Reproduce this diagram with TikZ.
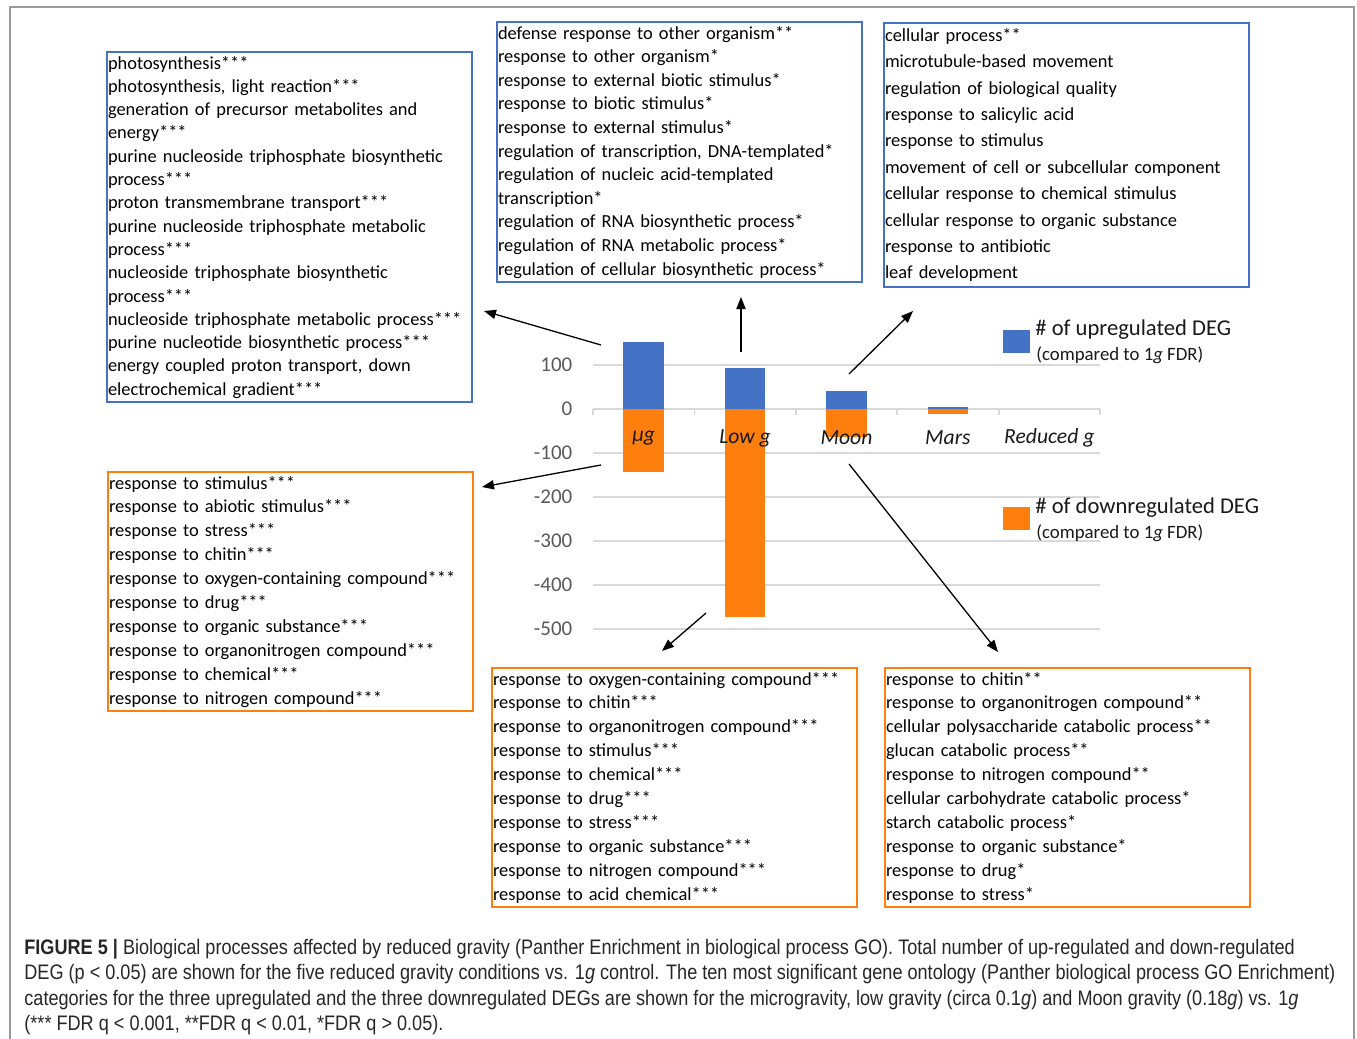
\documentclass[tikz,border=0pt]{standalone}
\usepackage{fontspec}
\setmainfont{Carlito}
\newfontfamily\capfont[FakeStretch=0.862]{Liberation Sans}
\usetikzlibrary{arrows.meta}

\definecolor{upblue}{HTML}{4472C4}
\definecolor{downorange}{HTML}{FF7F0E}
\definecolor{gridgray}{HTML}{D9D9D9}
\definecolor{axisgray}{HTML}{595959}
\definecolor{framegray}{HTML}{9A9A9A}

\tikzset{
  golist/.style={draw=#1, line width=1pt, anchor=north west, align=left,
    text width=181.5pt, inner xsep=0.5pt, inner ysep=2pt, font=\fontsize{9.2}{11.65}\selectfont,
    execute at begin node={\hyphenpenalty=10000}},
  golink/.style={-{Triangle[length=6pt,width=4.6pt]}, line width=0.65pt, black},
  axislbl/.style={anchor=east, text=axisgray, font=\fontsize{10.5}{12}\selectfont, inner sep=0pt},
  catlbl/.style={text=black!90, font=\fontsize{10.8}{12}\selectfont\itshape, inner sep=0pt},
  legendtxt/.style={anchor=west, inner sep=0pt, text=black!90}
}

\begin{document}
\begin{tikzpicture}[x=0.5pt, y=-0.5pt]
	\useasboundingbox (0,0) rectangle (1357,1039); % Seitenrand wie Vorlage
	\draw[framegray, line width=0.8pt] (10,1060) -- (10,7) -- (1354,7) -- (1354,1060);
	
	% Diagramm: Ursprung bei (593,409), 100 DEG = 44px
	\begin{scope}[shift={(593,409)}, x=50.7pt, y=0.22pt]
		\foreach \v in {100,-100,-200,-300,-400,-500}
			\draw[gridgray, line width=0.9pt] (0,\v) -- (5,\v);
		\draw[gridgray, line width=0.9pt] (0,0) -- (5,0);
		\foreach \i in {0,...,5}
			\draw[gridgray, line width=0.9pt] (\i,0) -- (\i,-14);
		
		\foreach \i/\up/\down in {0/152/-143, 1/93/-473, 2/41/-64, 3/5/-11}{
			\fill[upblue] (\i+0.3,0) rectangle (\i+0.7,\up); % hochreguliert
			\fill[downorange] (\i+0.3,0) rectangle (\i+0.7,\down); % runterreguliert
		}
		
		\foreach \v [count=\k] in {100,0,-100,-200,-300,-400,-500}
			\node[axislbl] (ylab\k) at (-0.2,\v) {\v};
		
		\node[catlbl] (cmug) at (0.5,-66) {µg};
		\node[catlbl] (clow) at (1.5,-66) {Low g};
		\node[catlbl] (cmoon) at (2.5,-66) {Moon};
		\node[catlbl] (cmars) at (3.5,-66) {Mars};
		\node[catlbl] (cred) at (4.5,-66) {Reduced g};
	\end{scope}
	
	% Legende
	\fill[upblue] (1003,330) rectangle (1030,353);
	\node[legendtxt, font=\fontsize{11.3}{13}\selectfont] (upleg) at (1035,330) {\# of upregulated DEG};
	\node[legendtxt, font=\fontsize{9.4}{11}\selectfont] (upcmp) at (1036,355) {(compared to 1\textit{g} FDR)};
	\fill[downorange] (1003,507) rectangle (1030,530);
	\node[legendtxt, font=\fontsize{11.3}{13}\selectfont] (dnleg) at (1035,508) {\# of downregulated DEG};
	\node[legendtxt, font=\fontsize{9.4}{11}\selectfont] (dncmp) at (1036,533) {(compared to 1\textit{g} FDR)};
	
	% GO-Listen hochreguliert
	\node[golist=upblue, minimum height=174.5pt] (upmug) at (106,51) {photosynthesis***\\
		photosynthesis, light reaction***\\
		generation of precursor metabolites and\\
		energy***\\
		purine nucleoside triphosphate biosynthetic\\
		process***\\
		proton transmembrane transport***\\
		purine nucleoside triphosphate metabolic\\
		process***\\
		nucleoside triphosphate biosynthetic\\
		process***\\
		nucleoside triphosphate metabolic process***\\
		purine nucleotide biosynthetic process***\\
		energy coupled proton transport, down\\
		electrochemical gradient***};
	\node[golist=upblue, minimum height=130pt, font=\fontsize{9.2}{11.8}\selectfont] (uplow) at (496,21) {defense response to other organism**\\
		response to other organism*\\
		response to external biotic stimulus*\\
		response to biotic stimulus*\\
		response to external stimulus*\\
		regulation of transcription, DNA-templated*\\
		regulation of nucleic acid-templated\\
		transcription*\\
		regulation of RNA biosynthetic process*\\
		regulation of RNA metabolic process*\\
		regulation of cellular biosynthetic process*};
	\node[golist=upblue, minimum height=132pt, font=\fontsize{9.2}{13.2}\selectfont] (upmoon) at (883,22) {cellular process**\\
		microtubule-based movement\\
		regulation of biological quality\\
		response to salicylic acid\\
		response to stimulus\\
		movement of cell or subcellular component\\
		cellular response to chemical stimulus\\
		cellular response to organic substance\\
		response to antibiotic\\
		leaf development};
	
	% GO-Listen runterreguliert
	\node[golist=downorange, minimum height=119.5pt, font=\fontsize{9.2}{11.95}\selectfont] (dnmug) at (107,471) {response to stimulus***\\
		response to abiotic stimulus***\\
		response to stress***\\
		response to chitin***\\
		response to oxygen-containing compound***\\
		response to drug***\\
		response to organic substance***\\
		response to organonitrogen compound***\\
		response to chemical***\\
		response to nitrogen compound***};
	\node[golist=downorange, minimum height=119pt, font=\fontsize{9.2}{11.95}\selectfont] (dnlow) at (491,667) {response to oxygen-containing compound***\\
		response to chitin***\\
		response to organonitrogen compound***\\
		response to stimulus***\\
		response to chemical***\\
		response to drug***\\
		response to stress***\\
		response to organic substance***\\
		response to nitrogen compound***\\
		response to acid chemical***};
	\node[golist=downorange, minimum height=119pt, font=\fontsize{9.2}{11.95}\selectfont] (dnmoon) at (884,667) {response to chitin**\\
		response to organonitrogen compound**\\
		cellular polysaccharide catabolic process**\\
		glucan catabolic process**\\
		response to nitrogen compound**\\
		cellular carbohydrate catabolic process*\\
		starch catabolic process*\\
		response to organic substance*\\
		response to drug*\\
		response to stress*};
	
	% Pfeile von den Balken zu den Listen
	\coordinate (mugupstart) at (601,345);
	\coordinate (mugupend) at (484,311);
	\coordinate (lowupstart) at (741,352);
	\coordinate (lowupend) at (741,297);
	\coordinate (moonupstart) at (849,374);
	\coordinate (moonupend) at (913,311);
	\coordinate (mugdnstart) at (601,465);
	\coordinate (mugdnend) at (482,487);
	\coordinate (lowdnstart) at (706,613);
	\coordinate (lowdnend) at (662,651);
	\coordinate (moondnstart) at (849,464);
	\coordinate (moondnend) at (998,652);
	\draw[golink] (mugupstart) -- (mugupend);
	\draw[golink] (lowupstart) -- (lowupend);
	\draw[golink] (moonupstart) -- (moonupend);
	\draw[golink] (mugdnstart) -- (mugdnend);
	\draw[golink] (lowdnstart) -- (lowdnend);
	\draw[golink] (moondnstart) -- (moondnend);
	
	% Bildunterschrift
	\node[anchor=north west, align=left, inner sep=0pt, text=black!85,
		font=\capfont\fontsize{10.5}{12.6}\selectfont] (caption) at (24,939) {\textbf{FIGURE 5 |} Biological processes affected by reduced gravity (Panther Enrichment in biological process GO). Total number of up-regulated and down-regulated\\
		DEG (p < 0.05) are shown for the five reduced gravity conditions vs. 1\textit{g} control. The ten most significant gene ontology (Panther biological process GO Enrichment)\\
		categories for the three upregulated and the three downregulated DEGs are shown for the microgravity, low gravity (circa 0.1\textit{g}) and Moon gravity (0.18\textit{g}) vs. 1\textit{g}\\
		(*** FDR q < 0.001, **FDR q < 0.01, *FDR q > 0.05).};
	
	%\draw[help lines] (0,0) grid[step=50] (1357,1039);
\end{tikzpicture}
\end{document}
